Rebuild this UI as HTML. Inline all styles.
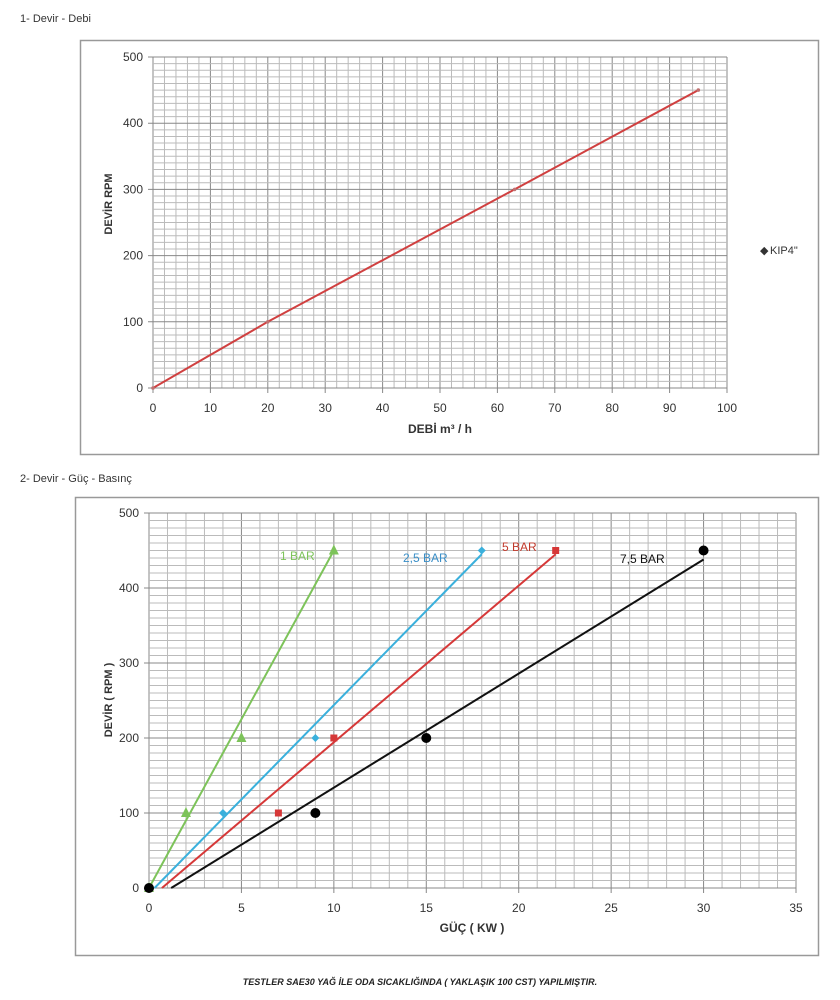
<!DOCTYPE html>
<html><head><meta charset="utf-8"><style>
body{margin:0;background:#fff;width:840px;height:1000px;overflow:hidden;font-family:"Liberation Sans",sans-serif}
svg{position:absolute;left:0;top:0}
text{font-family:"Liberation Sans",sans-serif;fill:#333}
</style></head><body>
<svg id="s" width="840" height="1000" xmlns="http://www.w3.org/2000/svg">
<text x="20" y="22" font-size="11">1- Devir - Debi</text>
<rect x="80.5" y="40.5" width="738" height="414" fill="none" stroke="#999" stroke-width="1.5"/>
<text x="20" y="482" font-size="11">2- Devir - Güç - Basınç</text>
<rect x="75.5" y="497.5" width="743" height="458" fill="none" stroke="#999" stroke-width="1.5"/>
<g id="g1"></g><g id="g2"></g>
<text x="130" y="222" font-size="11" font-weight="bold" transform="rotate(-90 112 222)" text-anchor="middle">DEVİR RPM</text>
<text x="440" y="433" font-size="12" font-weight="bold" text-anchor="middle">DEBİ m³ / h</text>
<text x="760" y="254" font-size="11" fill="#333">◆</text>
<text x="770" y="254" font-size="11">KIP4"</text>
<text x="112" y="700" font-size="11" font-weight="bold" transform="rotate(-90 112 700)" text-anchor="middle">DEVİR ( RPM )</text>
<text x="472" y="932" font-size="12" font-weight="bold" text-anchor="middle">GÜÇ ( KW )</text>
<text x="280" y="560" font-size="12" fill="#7dc35a" style="fill:#7dc35a">1 BAR</text>
<text x="403" y="562" font-size="12" style="fill:#3a8fc8">2,5 BAR</text>
<text x="502" y="551" font-size="12" style="fill:#c0392b">5 BAR</text>
<text x="620" y="563" font-size="12" style="fill:#111">7,5 BAR</text>
<text x="420" y="985" font-size="9" font-weight="bold" font-style="italic" text-anchor="middle" style="fill:#222">TESTLER SAE30 YAĞ İLE ODA SICAKLIĞINDA ( YAKLAŞIK 100 CST) YAPILMIŞTIR.</text>
</svg>
<script>
var NS="http://www.w3.org/2000/svg";
function el(p,t,a,txt){var e=document.createElementNS(NS,t);for(var k in a)e.setAttribute(k,a[k]);if(txt!=null)e.textContent=txt;p.appendChild(e);return e;}
// chart 1
var g=document.getElementById('g1');
var X0=153,X1=727,Y0=388,Y1=57;
function x1(v){return X0+(X1-X0)*v/100}function y1(v){return Y0+(Y1-Y0)*v/500}
for(var v=0;v<=100;v+=2){var maj=v%10==0;el(g,'line',{x1:x1(v),x2:x1(v),y1:Y1,y2:Y0+(maj?5:0),stroke:maj?'#888':'#bbb','stroke-width':1});if(maj)el(g,'text',{x:x1(v),y:Y0+24,'font-size':12,'text-anchor':'middle'},v);}
for(var v=0;v<=500;v+=10){var maj=v%100==0;el(g,'line',{x1:X0-(maj?5:0),x2:X1,y1:y1(v),y2:y1(v),stroke:maj?'#888':'#bbb','stroke-width':1});if(maj)el(g,'text',{x:X0-10,y:y1(v)+4,'font-size':12,'text-anchor':'end'},v);}
el(g,'polyline',{points:[[0,0],[20,100],[63,300],[95,450]].map(function(p){return x1(p[0])+','+y1(p[1])}).join(' '),fill:'none',stroke:'#d04040','stroke-width':2});
[[0,0],[20,100],[63,300],[95,450]].forEach(function(p){el(g,'circle',{cx:x1(p[0]),cy:y1(p[1]),r:1.8,fill:'#c07070'})});
// chart 2
g=document.getElementById('g2');
var A0=149,A1=796,B0=888,B1=513;
function x2(v){return A0+(A1-A0)*v/35}function y2(v){return B0+(B1-B0)*v/500}
for(var v=0;v<=35;v+=1){var maj=v%5==0;el(g,'line',{x1:x2(v),x2:x2(v),y1:B1,y2:B0+(maj?5:0),stroke:maj?'#888':'#bbb','stroke-width':1});if(maj)el(g,'text',{x:x2(v),y:B0+24,'font-size':12,'text-anchor':'middle'},v);}
for(var v=0;v<=500;v+=10){var maj=v%100==0;el(g,'line',{x1:A0-(maj?5:0),x2:A1,y1:y2(v),y2:y2(v),stroke:maj?'#888':'#bbb','stroke-width':1});if(maj)el(g,'text',{x:A0-10,y:y2(v)+4,'font-size':12,'text-anchor':'end'},v);}
function L(a,b,c,d,col){el(g,'line',{x1:x2(a),y1:y2(b),x2:x2(c),y2:y2(d),stroke:col,'stroke-width':2});}
L(0,0,10,450,'#7dc35a');L(0.3,0,18,445,'#3ab0dc');L(0.7,0,22,445,'#d63838');L(1.2,0,30,438,'#111');
[[0,0],[2,100],[5,200],[10,450]].forEach(function(p){var x=x2(p[0]),y=y2(p[1]);el(g,'polygon',{points:(x-5)+','+(y+4)+' '+(x+5)+','+(y+4)+' '+x+','+(y-6),fill:'#7dc35a'})});
[[0,0],[4,100],[9,200],[18,450]].forEach(function(p){var x=x2(p[0]),y=y2(p[1]);el(g,'polygon',{points:(x-4)+','+y+' '+x+','+(y-4)+' '+(x+4)+','+y+' '+x+','+(y+4),fill:'#3ab0dc'})});
[[0,0],[7,100],[10,200],[22,450]].forEach(function(p){var x=x2(p[0]),y=y2(p[1]);el(g,'rect',{x:x-3.5,y:y-3.5,width:7,height:7,fill:'#d63838'})});
[[0,0],[9,100],[15,200],[30,450]].forEach(function(p){el(g,'circle',{cx:x2(p[0]),cy:y2(p[1]),r:5,fill:'#000'})});
</script>
</body></html>
